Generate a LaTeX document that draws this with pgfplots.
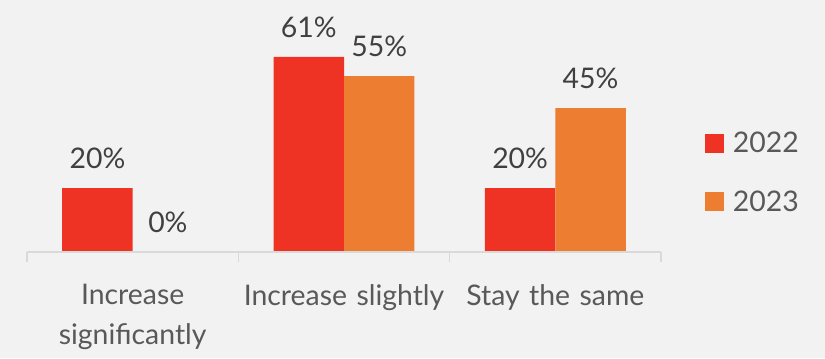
\documentclass[border=0pt]{standalone}
\usepackage{fontspec}
\setmainfont{Lato}
\usepackage{pgfplots}
\pgfplotsset{compat=1.18}
\definecolor{bg}{HTML}{F2F2F2}
\definecolor{r22}{HTML}{EE3224}
\definecolor{o23}{HTML}{ED7D31}
\definecolor{lab}{HTML}{404040}
\definecolor{axl}{HTML}{595959}
\definecolor{axc}{HTML}{D9D9D9}
\pgfplotsset{
  /pgfplots/ybar legend/.style={
    /pgfplots/legend image code/.code={%
      \path[##1,draw=none] (0bp,-9.5bp) rectangle (19bp,9.5bp);}
  }
}
\newcommand{\lblfont}{\fontsize{28.5}{40}\selectfont}
\begin{document}
\begin{tikzpicture}[x=1bp,y=1bp]
\fill[bg] (-27,-106) rectangle (798,252);
\useasboundingbox (-27,-106) rectangle (798,252);
\begin{axis}[
  at={(0,0)}, anchor=south west,
  scale only axis, width=634bp, height=224bp,
  xmin=-0.5, xmax=2.5, ymin=0, ymax=70,
  ybar=0pt, bar width=0.3333,
  axis on top,
  axis x line*=bottom, axis y line=none,
  x axis line style={-, draw=axc, line width=1.5bp},
  xtick={0,1,2},
  xticklabels={{Increase\\significantly},{Increase slightly},{Stay the same}},
  major tick length=0pt,
  minor xtick={-0.5,0.5,1.5,2.5},
  minor tick length=10bp,
  tick align=outside,
  minor tick style={draw=axc, line width=1.5bp},
  xticklabel style={align=center, text width=220bp, font=\lblfont, text=axl, yshift=-29bp},
  ytick=\empty,
  clip=false,
  /pgf/number format/assume math mode=true,
  nodes near coords={\pgfmathprintnumber{\pgfplotspointmeta}\%},
  every node near coord/.append style={font=\lblfont, text=lab, yshift=16bp},
  legend style={at={(rel axis cs:1.069,0.355)}, anchor=west, draw=none, fill=none,
    font=\lblfont, text=axl, row sep=36bp, column sep=9bp, inner sep=0pt,
    nodes={inner sep=0pt}},
  legend cell align=left,
]
\addplot[fill=r22, draw=none] coordinates {(0,20) (1,61) (2,20)};
\addplot[fill=o23, draw=none] coordinates {(0,0) (1,55) (2,45)};
\legend{2022,2023}
\end{axis}
\end{tikzpicture}
\end{document}
